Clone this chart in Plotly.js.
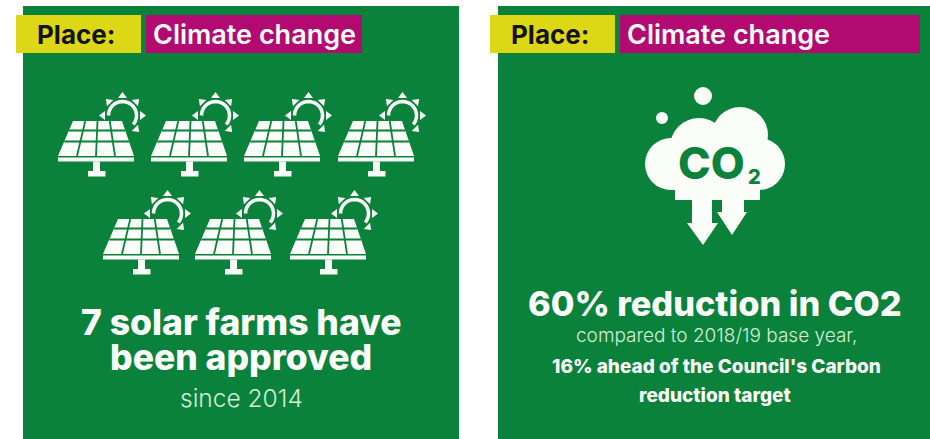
<!DOCTYPE html>
<html><head><meta charset="utf-8">
<script src="https://cdn.plot.ly/plotly-3.0.1.min.js"></script>
<style>html,body{margin:0;padding:0;background:#fff;overflow:hidden}#c{width:930px;height:439px}</style>
</head><body><div id="c"></div>
<script>
const tagLabel = "Place:";
const tagTheme = "Climate change";
const solarFarmsPerRow = [4, 3];
const leftHeadline = ["7 solar farms have", "been approved"];
const leftSub = "since 2014";
const rightHeadline = "60% reduction in CO2";
const rightSub = "compared to 2018/19 base year,";
const rightBold = ["16% ahead of the Council's Carbon", "reduction target"];

const GREEN = "#0a823b", YELLOW = "#dcd816", MAGENTA = "#b20a70", WHITE = "#fbfdf9";
const shapes = [], annotations = [];
const rect = (x0,y0,x1,y1,c)=>shapes.push({type:"rect",xref:"x",yref:"y",x0,y0,x1,y1,fillcolor:c,line:{width:0}});
const circ = (cx,cy,r,c)=>shapes.push({type:"circle",xref:"x",yref:"y",x0:cx-r,y0:cy-r,x1:cx+r,y1:cy+r,fillcolor:c,line:{width:0}});
const poly = (pts,c)=>shapes.push({type:"path",xref:"x",yref:"y",path:"M"+pts.map(p=>p[0].toFixed(2)+","+p[1].toFixed(2)).join("L")+"Z",fillcolor:c,line:{width:0}});
const stroke = (pts,c,w)=>shapes.push({type:"path",xref:"x",yref:"y",path:"M"+pts.map(p=>p[0].toFixed(2)+","+p[1].toFixed(2)).join("L"),line:{color:c,width:w}});
const text = (x,y,t,size,color,weight,extra={})=>annotations.push(Object.assign({xref:"x",yref:"y",x,y,text:t,showarrow:false,xanchor:"center",yanchor:"middle",font:{size,color,family:"Inter, sans-serif",weight}},extra));

function panel(x0,x1,yl0,yl1,m0,m1){
  rect(x0,6,x1,439,GREEN);
  rect(yl0,15,yl1,53,YELLOW);
  rect(m0,15,m1,53,MAGENTA);
  text(yl0+59.5,34,tagLabel,26,"#141414",700);
  text(m0+5,34,tagTheme,27,WHITE,600,{xanchor:"left"});
}
panel(23,459,16,141,146,362);
panel(498,930,490,615,620,920);

function solar(dx,dy){
  const X=x=>x+dx, Y=y=>y+dy;
  const tl=73,tr=122,bl=58,br=134,yt=121,yb=156;
  poly([[X(tl),Y(yt)],[X(tr),Y(yt)],[X(br),Y(yb)],[X(bl),Y(yb)]],WHITE);
  [130.5,141.5].forEach(y=>{
    const t=(y-yt)/(yb-yt);
    stroke([[X(tl+(bl-tl)*t),Y(y)],[X(tr+(br-tr)*t),Y(y)]],GREEN,1.8);
  });
  [.25,.5,.75].forEach(f=>{
    stroke([[X(tl+(tr-tl)*f),Y(yt)],[X(bl+(br-bl)*f),Y(yb)]],GREEN,1.8);
  });
  rect(X(58),Y(157.5),X(134),Y(161.5),WHITE);
  rect(X(93),Y(161.5),X(100),Y(171),WHITE);
  rect(X(88),Y(171),X(105.5),Y(176.5),WHITE);
  const cx=122.5,cy=115.5;
  const arc=[];
  for(let a=180;a<=400;a+=10){arc.push([X(cx+14*Math.cos(a*Math.PI/180)),Y(cy+14*Math.sin(a*Math.PI/180))]);}
  stroke(arc,WHITE,3.5);
  [-90,-45,0,45,180,225].forEach(d=>{
    const a=d*Math.PI/180,b=a+Math.PI/2;
    const R0=17.5,R1=23.5,h=4.5;
    poly([[X(cx+R1*Math.cos(a)),Y(cy+R1*Math.sin(a))],
          [X(cx+R0*Math.cos(a)+h*Math.cos(b)),Y(cy+R0*Math.sin(a)+h*Math.sin(b))],
          [X(cx+R0*Math.cos(a)-h*Math.cos(b)),Y(cy+R0*Math.sin(a)-h*Math.sin(b))]],WHITE);
  });
}
const rowOffsets=[[0,93,186,280],[45,137,232]], rowY=[0,98];
solarFarmsPerRow.forEach((n,r)=>{for(let i=0;i<n;i++)solar(rowOffsets[r][i],rowY[r]);});

/* cloud */
circ(703,96,9,WHITE); circ(662,118,6,WHITE);
circ(671,164,26,WHITE); circ(699,147,29,WHITE); circ(740,135,28,WHITE); circ(759,164,26,WHITE);
rect(675,150,760,200,WHITE);
rect(671,165,760,190,WHITE);
poly([[692,198],[712,198],[712,223],[718,223],[703,245],[687,223],[692,223]],WHITE);
poly([[722,198],[744,198],[744,212],[747,212],[732,235],[717,212],[722,212]],WHITE);
rect(712,201,722,212,GREEN);
text(711,163,"CO",44,GREEN,800);
text(754,177,"2",20,GREEN,800);

/* texts */
text(241,322.5,leftHeadline[0],35.5,WHITE,800);
text(240.5,357.5,leftHeadline[1],35.5,WHITE,800);
text(241,398,leftSub,24.5,"#d5ecd9",300);
text(715,303,rightHeadline,34.3,WHITE,800);
text(716,335,rightSub,19,"#d5ecd9",300);
text(716,366,rightBold[0],19,WHITE,800);
text(715,395,rightBold[1],19,WHITE,800);

Plotly.newPlot("c",[],{
  width:930,height:439,margin:{l:0,r:0,t:0,b:0},
  paper_bgcolor:"#fff",plot_bgcolor:"#fff",showlegend:false,
  xaxis:{range:[0,930],visible:false,fixedrange:true},
  yaxis:{range:[439,0],visible:false,fixedrange:true},
  shapes,annotations
},{staticPlot:true,displayModeBar:false});
</script></body></html>
